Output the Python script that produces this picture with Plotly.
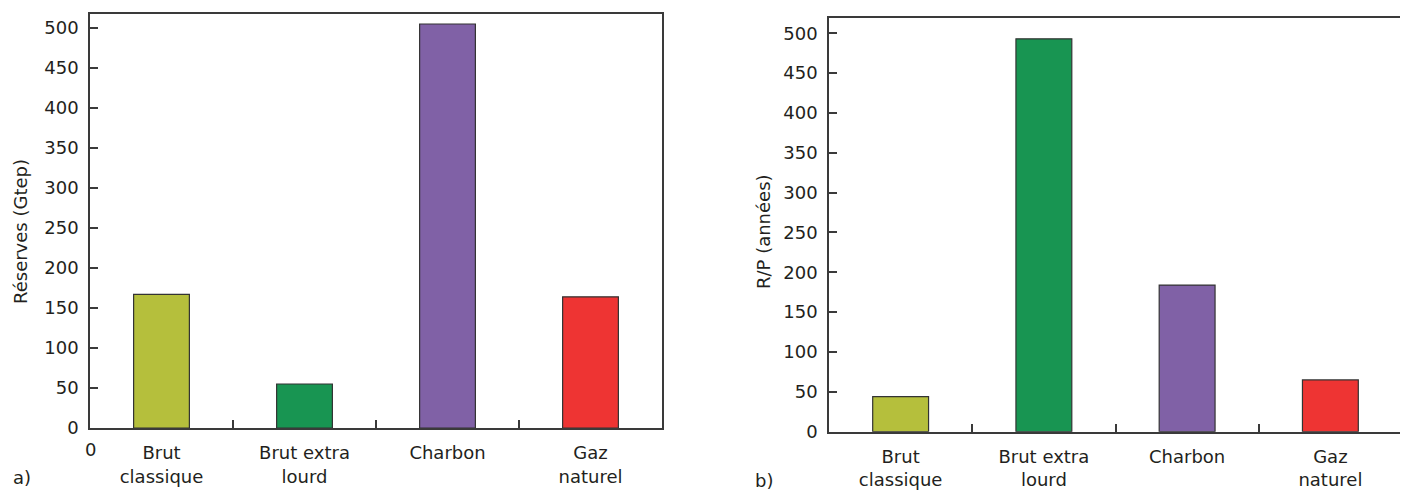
import plotly.graph_objects as go

categories = ["Brut<br>classique", "Brut extra<br>lourd", "Charbon", "Gaz<br>naturel"]
reserves_gtep = [167, 55, 505, 164]
rp_annees = [44, 493, 184, 65]
bar_colors = ["#B5BF3C", "#189552", "#8061A6", "#EE3433"]
y_ticks = [0, 50, 100, 150, 200, 250, 300, 350, 400, 450, 500]

# the page body has an 8px margin: the figure is drawn 8px in from the top-left
OFF = 8
W, H = 1408 - OFF, 491 - OFF
FONT = "DejaVu Sans"
FS = 18
TXT = "#231F20"
AX = "#3a3a3a"

fig = go.Figure()
fig.add_trace(go.Bar(x=categories, y=reserves_gtep, marker=dict(color=bar_colors, line=dict(color="#333333", width=1.2)),
                     width=0.39, xaxis="x", yaxis="y", showlegend=False, hoverinfo="x+y"))
fig.add_trace(go.Bar(x=categories, y=rp_annees, marker=dict(color=bar_colors, line=dict(color="#333333", width=1.2)),
                     width=0.39, xaxis="x2", yaxis="y2", showlegend=False, hoverinfo="x+y"))

def px_x(p):
    return (p - OFF) / W

def px_y(p):
    return (H - (p - OFF)) / H

xcommon = dict(type="category", showline=True, mirror=True, linecolor=AX, linewidth=1.5,
               ticks="inside", tickson="boundaries", ticklen=8, tickcolor=AX, tickwidth=1.5,
               showgrid=False, zeroline=False, tickfont=dict(family=FONT, size=FS, color=TXT),
               ticklabelstandoff=8, fixedrange=True, automargin=False)
ycommon = dict(showline=True, mirror=True, linecolor=AX, linewidth=1.5,
               ticks="inside", ticklen=8, tickcolor=AX, tickwidth=1.5,
               tickvals=y_ticks, showgrid=False, zeroline=False,
               tickfont=dict(family=FONT, size=FS, color=TXT), ticklabelstandoff=6,
               fixedrange=True, automargin=False)

fig.update_layout(
    width=W, height=H, margin=dict(l=0, r=0, t=0, b=0, autoexpand=False),
    paper_bgcolor="white", plot_bgcolor="white", bargap=0.6,
    xaxis=dict(domain=[px_x(90), px_x(662)], anchor="y", **xcommon),
    yaxis=dict(domain=[px_y(428), px_y(14)], anchor="x", range=[0, 517.5], **ycommon),
    xaxis2=dict(domain=[px_x(829), px_x(1402)], anchor="y2", **xcommon),
    yaxis2=dict(domain=[px_y(431.7), px_y(18.3)], anchor="x2", range=[0, 518.7], **ycommon),
)

def ann(text, x, y, angle=0, size=FS):
    fig.add_annotation(text=text, x=px_x(x), y=px_y(y), xref="paper", yref="paper",
                       showarrow=False, textangle=angle, xanchor="center", yanchor="middle",
                       font=dict(family=FONT, size=size, color=TXT))

ann("Réserves (Gtep)", 21, 232, angle=-90)
ann("R/P (années)", 764, 232, angle=-90)
ann("0", 90, 449)
ann("a)", 22, 477)
ann("b)", 764, 480)

fig.write_html("out.html")
